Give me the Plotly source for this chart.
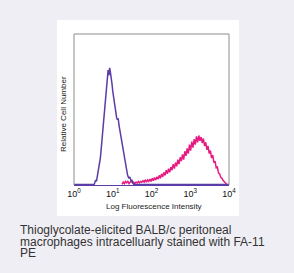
import plotly.graph_objects as go

# ---- data ----
blue_exp = [0.00, 0.50, 0.52, 0.54, 0.56, 0.58, 0.60, 0.62, 0.64, 0.66, 0.68, 0.70, 0.72, 0.74, 0.76, 0.78,
            0.80, 0.82, 0.84, 0.86, 0.88, 0.90, 0.92, 0.94, 0.96, 0.98, 1.00, 1.02, 1.04, 1.06,
            1.08, 1.10, 1.12, 1.14, 1.16, 1.18, 1.20, 1.22, 1.24, 1.26, 1.28, 1.30, 1.32, 1.34,
            1.36, 1.38, 1.40, 1.42, 1.44, 1.46, 1.48, 1.50, 1.52, 1.54, 4.00]
blue_counts = [0, 0, 0, 3, 6, 4, 10, 14, 20, 28, 35, 46, 58, 70, 84, 98,
               112, 125, 138, 146, 152, 145, 155, 149, 143, 134, 124, 117, 110, 100,
               95, 89, 86, 88, 79, 73, 65, 59, 50, 45, 39, 34, 29, 22,
               18, 13, 10, 8, 10, 6, 4, 5, 2, 0, 0]

pink_exp = [1.24, 1.27, 1.30, 1.33, 1.36, 1.39, 1.42, 1.45, 1.48, 1.51, 1.54, 1.57, 1.60, 1.63,
            1.66, 1.69, 1.72, 1.75, 1.78, 1.81, 1.84, 1.87, 1.90, 1.93, 1.96, 1.99, 2.02, 2.05,
            2.08, 2.11, 2.14, 2.17, 2.20, 2.23, 2.26, 2.29, 2.32, 2.35, 2.38, 2.41, 2.44, 2.47,
            2.50, 2.53, 2.56, 2.59, 2.62, 2.65, 2.68, 2.71, 2.74, 2.77, 2.80, 2.83, 2.86, 2.89,
            2.92, 2.95, 2.98, 3.01, 3.04, 3.07, 3.10, 3.13, 3.16, 3.19, 3.22, 3.25, 3.28, 3.31,
            3.34, 3.37, 3.40, 3.43, 3.46, 3.49, 3.52, 3.55, 3.58, 3.61, 3.64, 3.67, 3.70, 3.73,
            3.76, 3.79, 3.82, 3.85, 3.88, 3.91, 3.94, 3.97]
pink_counts = [0, 3, 1, 4, 2, 4, 1, 3, 5, 2, 3, 1, 3, 2,
               4, 2, 4, 3, 5, 3, 6, 3, 6, 4, 7, 4, 8, 5,
               9, 6, 10, 7, 12, 8, 14, 10, 16, 12, 19, 14, 21, 16,
               23, 19, 27, 21, 29, 24, 33, 27, 36, 31, 40, 33, 44, 38,
               48, 41, 53, 45, 57, 49, 60, 53, 64, 56, 65, 58, 63, 55,
               61, 51, 56, 46, 51, 41, 45, 35, 39, 29, 31, 22, 23, 15,
               14, 9, 8, 5, 4, 2, 0, 0]

tick_vals = [1, 10, 100, 1000, 10000]
tick_text = ["10<sup>0</sup>", "10<sup>1</sup>", "10<sup>2</sup>", "10<sup>3</sup>", "10<sup>4</sup>"]

x_title = "Log Fluorescence Intensity"
y_title = "Relative Cell Number"
caption = ["Thioglycolate-elicited BALB/c peritoneal",
           "macrophages intracelluarly stained with FA-11",
           "PE"]

# ---- figure ----
W, H = 294, 273
L, R, T, B = 74, 229, 34, 185
pw, ph = R - L, B - T

def px(x):
    return (x - L) / pw

def py(y):
    return (B - y) / ph

fig = go.Figure()
fig.add_trace(go.Scatter(x=[10 ** e for e in pink_exp], y=pink_counts, mode="lines",
                         line=dict(color="#e61a80", width=1.5), hoverinfo="skip"))
fig.add_trace(go.Scatter(x=[10 ** e for e in blue_exp], y=blue_counts, mode="lines",
                         line=dict(color="#5a3da6", width=1.5), hoverinfo="skip"))

shapes = [
    dict(type="rect", xref="paper", yref="paper", x0=px(57), x1=px(239), y0=py(216), y1=py(20),
         fillcolor="white", line=dict(width=0), layer="below"),
    dict(type="line", xref="paper", yref="paper", x0=0, x1=0, y0=0, y1=1,
         line=dict(color="#8c8c8c", width=1)),
    dict(type="line", xref="paper", yref="paper", x0=0, x1=1, y0=1, y1=1,
         line=dict(color="#8c8c8c", width=1)),
    dict(type="line", xref="paper", yref="paper", x0=1, x1=1, y0=0, y1=1,
         line=dict(color="#8c8c8c", width=1)),
]

small_font = "Liberation Sans"
annotations = [
    dict(text=x_title, xref="paper", yref="paper", x=px(154), y=py(206), showarrow=False,
         xanchor="center", yanchor="middle", font=dict(size=8, color="#222222", family=small_font)),
    dict(text=y_title, xref="paper", yref="paper", x=px(63), y=py(114), showarrow=False, textangle=-90,
         xanchor="center", yanchor="middle", font=dict(size=8, color="#222222", family=small_font)),
]
for i, line in enumerate(caption):
    annotations.append(dict(text=line, xref="paper", yref="paper", x=px(18), y=py(230.5 + 11 * i),
                            showarrow=False, xanchor="left", yanchor="middle",
                            font=dict(size=12, color="#333333", family="Liberation Sans")))

fig.update_layout(
    width=W, height=H,
    margin=dict(l=L, r=W - R, t=T, b=H - B, pad=0),
    paper_bgcolor="#efeef4", plot_bgcolor="white",
    showlegend=False,
    shapes=shapes, annotations=annotations,
    xaxis=dict(type="log", range=[0, 4], tickvals=tick_vals, ticktext=tick_text, ticks="",
               showgrid=False, zeroline=False, showline=True, linecolor="#5a3da6", linewidth=1,
               tickfont=dict(size=9, color="#111111", family="Liberation Sans")),
    yaxis=dict(range=[-0.8, 200], showticklabels=False, ticks="", showgrid=False,
               zeroline=False, showline=False),
)

fig.write_html("out.html")
